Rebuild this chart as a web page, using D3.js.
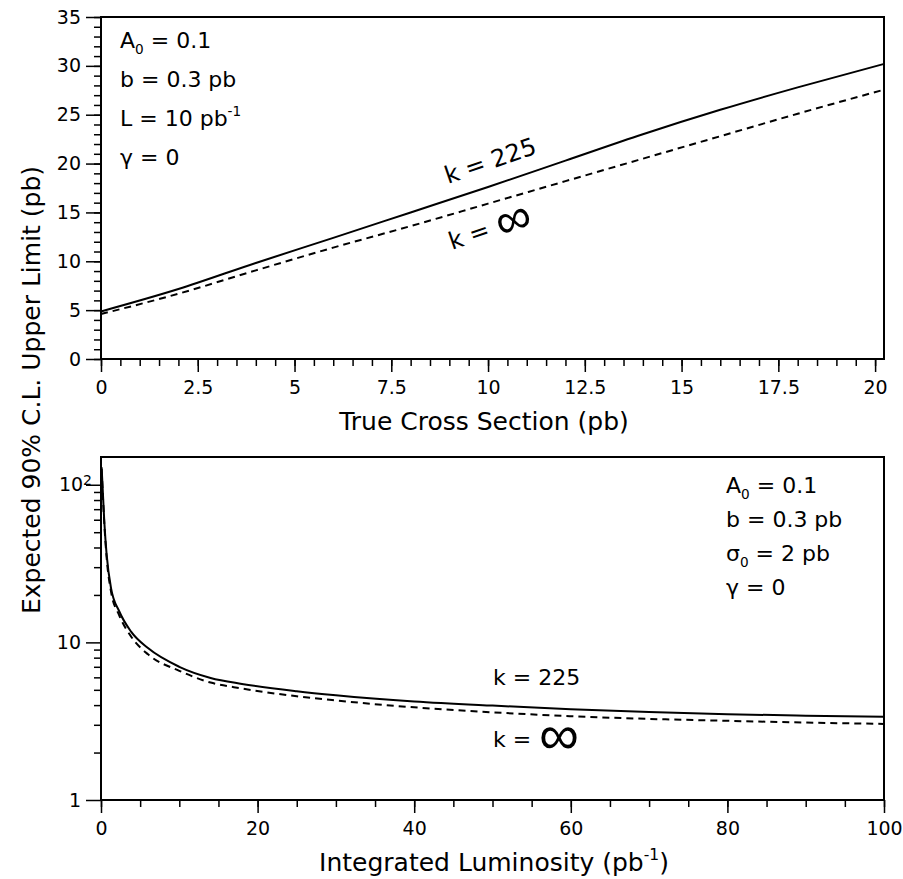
<!DOCTYPE html>
<html>
<head>
<meta charset="utf-8">
<script src="https://cdn.jsdelivr.net/npm/d3@7"></script>
<style>
  body { margin: 0; background: #fff; }
  text { font-family: "DejaVu Sans", sans-serif; fill: #000; }
</style>
</head>
<body>
<svg id="chart" width="903" height="879"></svg>
<script>
// Top panel: expected limit vs true cross section (L = 10 pb^-1)
var sigmaTrue = [0, 2, 4, 6, 8, 10, 12, 14, 16, 18, 20.23];
var topK225  = [4.87, 7.16, 9.83, 12.4, 15.0, 17.6, 20.3, 23.0, 25.5, 27.8, 30.2];
var topKInf  = [4.6, 6.68, 9.07, 11.4, 13.6, 15.9, 18.2, 20.5, 22.8, 25.1, 27.56];
var topXTicks = [0, 2.5, 5, 7.5, 10, 12.5, 15, 17.5, 20];
var topYTicks = [0, 5, 10, 15, 20, 25, 30, 35];

// Bottom panel: expected limit vs integrated luminosity (sigma0 = 2 pb)
var lumi    = [0.08, 0.42, 0.72, 1.28, 2.34, 3.84, 6, 10, 14, 18, 25, 30, 40, 50, 60, 70, 80, 90, 100];
var botK225 = [129, 58.5, 36, 22.1, 15.7, 11.7, 9.2, 7.0, 5.95, 5.45, 4.9, 4.62, 4.22, 3.97, 3.77, 3.62, 3.5, 3.43, 3.38];
var botKInf = [126, 57, 34.5, 21, 14.8, 10.9, 8.4, 6.6, 5.56, 5.1, 4.55, 4.28, 3.87, 3.6, 3.4, 3.27, 3.18, 3.1, 3.04];
var botXTicks = [0, 20, 40, 60, 80, 100];
var botYTicks = [1, 10, 100];

var svg = d3.select("#chart");

// panel boxes
var boxTop = {left: 101, right: 884, top: 17, bottom: 359};
var boxBot = {left: 101, right: 884, top: 457, bottom: 800};

var x1 = d3.scaleLinear().domain([0, 20.23]).range([boxTop.left, boxTop.right]);
var y1 = d3.scaleLinear().domain([0, 35]).range([boxTop.bottom, boxTop.top]);
var x2 = d3.scaleLinear().domain([0, 100]).range([boxBot.left, boxBot.right]);
var y2 = d3.scaleLog().domain([1, 150]).range([boxBot.bottom, boxBot.top]);

function styleAxis(g) {
  g.select(".domain").remove();
  g.selectAll("line").attr("stroke", "#000").attr("stroke-width", 1.5);
  g.selectAll("text").style("font-size", "19px").attr("fill", "#000");
}

// --- top panel axes
svg.append("g").attr("transform", "translate(0," + boxTop.bottom + ")")
  .call(d3.axisBottom(x1).tickValues(d3.range(0, 20.3, 0.5)).tickSize(7).tickFormat(""))
  .call(styleAxis);
svg.append("g").attr("transform", "translate(0," + boxTop.bottom + ")")
  .call(d3.axisBottom(x1).tickValues(topXTicks).tickSize(13).tickPadding(9).tickFormat(d3.format("")))
  .call(styleAxis);
svg.append("g").attr("transform", "translate(" + boxTop.left + ",0)")
  .call(d3.axisLeft(y1).tickValues(d3.range(0, 36, 1)).tickSize(7).tickFormat(""))
  .call(styleAxis);
svg.append("g").attr("transform", "translate(" + boxTop.left + ",0)")
  .call(d3.axisLeft(y1).tickValues(topYTicks).tickSize(15).tickPadding(5))
  .call(styleAxis);

// --- bottom panel axes
svg.append("g").attr("transform", "translate(0," + boxBot.bottom + ")")
  .call(d3.axisBottom(x2).tickValues(d3.range(0, 101, 5)).tickSize(7).tickFormat(""))
  .call(styleAxis);
svg.append("g").attr("transform", "translate(0," + boxBot.bottom + ")")
  .call(d3.axisBottom(x2).tickValues(botXTicks).tickSize(13).tickPadding(9))
  .call(styleAxis);

var minorLog = [];
[1, 10].forEach(function(d) { for (var i = 2; i <= 9; i++) minorLog.push(d * i); });
svg.append("g").attr("transform", "translate(" + boxBot.left + ",0)")
  .call(d3.axisLeft(y2).tickValues(minorLog).tickSize(7).tickFormat(""))
  .call(styleAxis);
var yAx2 = svg.append("g").attr("transform", "translate(" + boxBot.left + ",0)")
  .call(d3.axisLeft(y2).tickValues(botYTicks).tickSize(15).tickPadding(5)
    .tickFormat(function(d) { return d === 100 ? "10" : String(d); }))
  .call(styleAxis);
// 10^2 label with superscript
var lab100 = yAx2.selectAll(".tick text").filter(function(d) { return d === 100; });
lab100.append("tspan").attr("dy", "-0.45em").style("font-size", "14px").text("2");
lab100.attr("x", -9);

// frames
[boxTop, boxBot].forEach(function(b) {
  svg.append("rect")
    .attr("x", b.left).attr("y", b.top)
    .attr("width", b.right - b.left).attr("height", b.bottom - b.top)
    .attr("fill", "none").attr("stroke", "#000").attr("stroke-width", 2);
});

// curves
var line1 = d3.line().x(function(d) { return x1(d[0]); }).y(function(d) { return y1(d[1]); })
  .curve(d3.curveMonotoneX);
var line2 = d3.line().x(function(d) { return x2(d[0]); }).y(function(d) { return y2(d[1]); })
  .curve(d3.curveMonotoneX);

function draw(gen, xs, ys, dashed) {
  svg.append("path")
    .datum(xs.map(function(v, i) { return [v, ys[i]]; }))
    .attr("d", gen)
    .attr("fill", "none").attr("stroke", "#000").attr("stroke-width", 2)
    .attr("stroke-dasharray", dashed ? "7,5" : null);
}
draw(line1, sigmaTrue, topK225, false);
draw(line1, sigmaTrue, topKInf, true);
draw(line2, lumi, botK225, false);
draw(line2, lumi, botKInf, true);

// text with sub/superscripts: parts = [[text, shift]], shift: 0, "sub", "sup"
function rich(x, y, size, parts, anchor) {
  var t = svg.append("text").attr("x", x).attr("y", y)
    .style("font-size", size + "px").attr("text-anchor", anchor || "start");
  var cur = 0;
  parts.forEach(function(p) {
    var target = p[1] === "sub" ? 0.25 : p[1] === "sup" ? -0.45 : 0;
    var ts = t.append("tspan").text(p[0]);
    if (p[1]) ts.style("font-size", (size * 0.62) + "px");
    var dy = (target - cur) * size;
    if (dy !== 0) ts.attr("dy", dy);
    cur = target;
  });
  return t;
}

// top annotations
rich(120, 48, 22, [["A", 0], ["0", "sub"], [" = 0.1", 0]]);
rich(120, 87, 22, [["b = 0.3 pb", 0]]);
rich(120, 126, 22, [["L = 10 pb", 0], ["-1", "sup"]]);
rich(120, 165, 22, [["\u03b3 = 0", 0]]);

// bottom annotations
rich(726, 493, 22, [["A", 0], ["0", "sub"], [" = 0.1", 0]]);
rich(726, 527, 22, [["b = 0.3 pb", 0]]);
rich(726, 561, 22, [["\u03c3", 0], ["0", "sub"], [" = 2 pb", 0]]);
rich(726, 595, 22, [["\u03b3 = 0", 0]]);

// "k = inf" label: large, thin infinity sign as its own text
function kInfLabel(transform, size, infX, infDy, infSize) {
  var g = svg.append("g").attr("transform", transform);
  g.append("text").style("font-size", size + "px").text("k =");
  g.append("text").attr("x", infX).attr("y", infDy)
    .style("font-family", "'Noto Sans', 'DejaVu Sans', sans-serif")
    .style("font-weight", 300)
    .style("font-size", infSize + "px").text("\u221e");
}

// curve labels, top panel (rotated along the lines)
svg.append("text").attr("transform", "translate(448,184) rotate(-19)")
  .style("font-size", "24px").text("k = 225");
kInfLabel("translate(452,250) rotate(-19)", 24, 50, 7, 50);

// curve labels, bottom panel
svg.append("text").attr("x", 493).attr("y", 685).style("font-size", "22px").text("k = 225");
kInfLabel("translate(493,747)", 22, 46, 7, 56);

// axis titles
svg.append("text").attr("x", 484).attr("y", 430).attr("text-anchor", "middle")
  .style("font-size", "25px").text("True Cross Section (pb)");
rich(494, 871, 25, [["Integrated Luminosity (pb", 0], ["-1", "sup"], [")", 0]], "middle");
svg.append("text").attr("transform", "translate(40,390) rotate(-90)")
  .attr("text-anchor", "middle").style("font-size", "25px")
  .text("Expected 90% C.L. Upper Limit (pb)");
</script>
</body>
</html>
